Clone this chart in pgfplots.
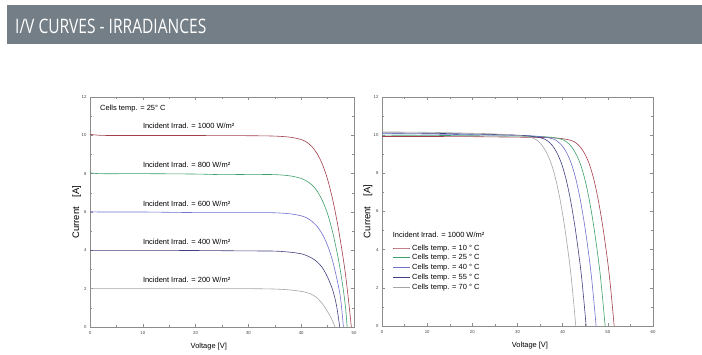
\documentclass[border=0pt]{standalone}
\usepackage{fontspec}
\setmainfont{Liberation Sans}
\newfontfamily\titlefont{Open Sans}[FakeStretch=0.78]
\usepackage{pgfplots}
\pgfplotsset{compat=1.18}
\definecolor{banner}{RGB}{115,126,134}
\definecolor{c1}{RGB}{160,64,74}
\definecolor{c2}{RGB}{60,160,105}
\definecolor{c3}{RGB}{112,112,208}
\definecolor{c4}{RGB}{64,64,128}
\definecolor{c5}{RGB}{165,165,165}
\pgfplotsset{ivstyle/.style={
  scale only axis, ymin=0, ymax=12, ytick={0,2,...,12},
  minor x tick num=1, minor y tick num=1,
  tick align=inside, major tick length=3bp, minor tick length=2bp,
  axis line style={draw=black!45},
  major tick style={black!45, line width=0.4pt},
  minor tick style={black!45, line width=0.4pt},
  tick label style={font=\fontsize{4.3}{4.3}\selectfont, text=black!75},
  /pgf/number format/assume math mode=true,
  xticklabel style={yshift=-1bp},
  xlabel style={font=\fontsize{7.5}{8}\selectfont, anchor=center},
  ylabel style={font=\fontsize{9.5}{10}\selectfont, anchor=center},
  every axis plot/.append style={line width=0.6pt, no markers, smooth},
  clip=false,
}}
\begin{document}
\begin{tikzpicture}[x=1bp,y=1bp]
\fill[white] (0,0) rectangle (702,354);
\fill[banner] (7,310) rectangle (702,349);
\node[anchor=base west, text=white, font=\titlefont\fontsize{20}{20}\selectfont, inner sep=0pt] at (15,321) {I/V CURVES - IRRADIANCES};

\begin{axis}[ivstyle, at={(90bp,27bp)}, anchor=south west, width=264bp, height=230bp,
  xmin=0, xmax=50, xtick={0,10,...,50},
  xlabel={Voltage [V]}, ylabel={Current\hspace{10bp}[A]},
  xlabel style={at={(axis description cs:0.45,0)}, yshift=-20bp},
  ylabel style={at={(axis description cs:-0.05,0.5)}},
]
\addplot[c1] coordinates {(0,10.05)(2,10.0)(5,9.99)(10,9.99)(20,9.99)(30,9.98)(35,9.96)(38,9.9)(40,9.78)(41,9.65)(42,9.42)(43,9.05)(44,8.5)(45,7.7)(46,6.6)(47,5.2)(48,3.5)(48.5,2.5)(49,1.3)(49.5,0)};
\addplot[c2] coordinates {(0,8.05)(2,8.0)(10,8.0)(20,7.98)(25,7.95)(30,7.96)(35,7.95)(38,7.88)(40,7.75)(41,7.62)(42,7.42)(43,7.1)(44,6.6)(45,5.9)(46,4.9)(47,3.6)(47.5,2.8)(48,1.9)(48.4,1.0)(48.7,0)};
\addplot[c3] coordinates {(0,6.02)(2,6.0)(10,6.0)(20,5.97)(30,5.97)(35,5.96)(38,5.9)(40,5.8)(41,5.7)(42,5.52)(43,5.25)(44,4.85)(45,4.25)(46,3.4)(47,2.2)(47.5,1.4)(48,0)};
\addplot[c4] coordinates {(0,4.0)(10,4.0)(20,3.99)(30,3.97)(35,3.96)(38,3.9)(40,3.82)(41,3.73)(42,3.6)(43,3.4)(44,3.1)(45,2.6)(46,1.9)(46.7,1.1)(47.3,0)};
\addplot[c5] coordinates {(0,2.0)(10,2.0)(20,2.0)(30,2.0)(35,1.98)(38,1.93)(40,1.86)(41,1.8)(42,1.7)(43,1.52)(44,1.22)(45,0.8)(45.8,0.4)(46.4,0)};
\begin{scope}[every node/.style={anchor=west, inner sep=0pt, font=\fontsize{7.5}{8}\selectfont}]
\node at (axis cs:1.9,11.41) {Cells temp. = 25° C};
\node at (axis cs:10,10.49) {Incident Irrad. = 1000 W/m²};
\node at (axis cs:10,8.45) {Incident Irrad. = 800 W/m²};
\node at (axis cs:10,6.45) {Incident Irrad. = 600 W/m²};
\node at (axis cs:10,4.45) {Incident Irrad. = 400 W/m²};
\node at (axis cs:10,2.45) {Incident Irrad. = 200 W/m²};
\end{scope}
\end{axis}

\begin{axis}[ivstyle, at={(382bp,28bp)}, anchor=south west, width=271bp, height=229bp,
  xmin=0, xmax=60, xtick={0,10,...,60},
  xlabel={Voltage [V]}, ylabel={Current\hspace{10bp}[A]},
  xlabel style={at={(axis description cs:0.546,0)}, yshift=-20bp},
  ylabel style={at={(axis description cs:-0.052,0.5)}},
  legend style={at={(axis cs:2.37,4.33)}, anchor=north west, draw=none, fill=none,
    font=\fontsize{7.5}{8}\selectfont, inner sep=0pt, row sep=0.9pt,
    nodes={inner ysep=0.8pt, inner xsep=1.6pt, text height=5.8pt, text depth=1.5pt},
    cells={anchor=west}},
]
\addplot[c1] coordinates {(0,9.93)(10,9.93)(20,9.92)(31.9,9.89)(36.9,9.87)(39.9,9.82)(41.9,9.72)(42.9,9.6)(43.9,9.38)(44.9,9.02)(45.9,8.48)(46.9,7.68)(47.9,6.58)(48.9,5.18)(49.9,3.49)(50.4,2.49)(50.9,1.3)(51.4,0)};
\addlegendentry{Cells temp. = 10 ° C}
\addplot[c2] coordinates {(0,10.0)(10,9.99)(20,9.97)(29.9,9.95)(34.9,9.93)(37.9,9.88)(39.9,9.77)(40.9,9.64)(41.9,9.41)(42.9,9.04)(43.9,8.5)(44.9,7.7)(45.9,6.6)(46.9,5.2)(47.9,3.5)(48.4,2.5)(48.9,1.3)(49.4,0)};
\addlegendentry{Cells temp. = 25 ° C}
\addplot[c3] coordinates {(0,10.08)(10,10.06)(20,10.02)(27.9,10.0)(32.9,9.97)(35.9,9.9)(37.9,9.8)(38.9,9.67)(39.9,9.44)(40.9,9.07)(41.9,8.52)(42.9,7.72)(43.9,6.62)(44.9,5.22)(45.9,3.52)(46.4,2.52)(46.9,1.31)(47.4,0)};
\addlegendentry{Cells temp. = 40 ° C}
\addplot[c4] coordinates {(0,10.12)(10,10.1)(20,10.06)(25.7,10.03)(30.7,9.99)(33.7,9.92)(35.7,9.82)(36.7,9.69)(37.7,9.46)(38.7,9.09)(39.7,8.54)(40.7,7.74)(41.7,6.64)(42.7,5.24)(43.7,3.53)(44.2,2.53)(44.7,1.32)(45.2,0)};
\addlegendentry{Cells temp. = 55 ° C}
\addplot[c5] coordinates {(0,10.17)(10,10.15)(20,10.1)(23.4,10.08)(28.4,10.02)(31.4,9.95)(33.4,9.85)(34.4,9.72)(35.4,9.48)(36.4,9.1)(37.4,8.55)(38.4,7.75)(39.4,6.65)(40.4,5.25)(41.4,3.54)(41.9,2.54)(42.4,1.32)(42.9,0)};
\addlegendentry{Cells temp. = 70 ° C}
\node[anchor=west, inner sep=0pt, font=\fontsize{7.5}{8}\selectfont] at (axis cs:2.37,4.77) {Incident Irrad. = 1000 W/m²};
\end{axis}
\end{tikzpicture}
\end{document}
